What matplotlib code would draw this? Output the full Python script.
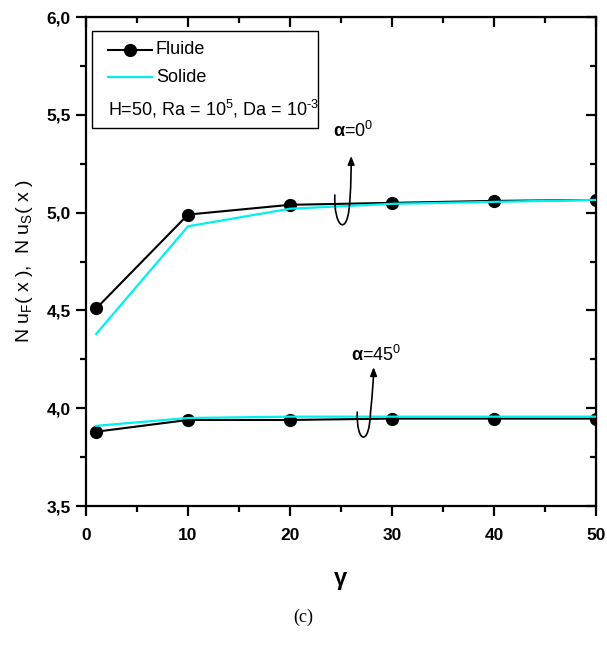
import matplotlib
matplotlib.use("Agg")
from matplotlib import pyplot as plt
from matplotlib.path import Path
from matplotlib.patches import FancyArrowPatch, Rectangle
from matplotlib.lines import Line2D

# gamma values
gamma = [1, 10, 20, 30, 40, 50]

# alpha = 0 deg
fluide_a0 = [4.51, 4.99, 5.04, 5.05, 5.06, 5.065]
solide_a0 = [4.38, 4.93, 5.02, 5.045, 5.055, 5.065]

# alpha = 45 deg
fluide_a45 = [3.88, 3.94, 3.94, 3.947, 3.947, 3.947]
solide_a45 = [3.91, 3.95, 3.957, 3.957, 3.957, 3.957]

xticks = [0, 10, 20, 30, 40, 50]
yticks = [3.5, 4.0, 4.5, 5.0, 5.5, 6.0]

plt.rcParams["font.family"] = ["Liberation Sans Narrow", "DejaVu Sans Condensed",
                               "Liberation Sans", "DejaVu Sans"]
plt.rcParams["mathtext.fontset"] = "custom"
plt.rcParams["mathtext.rm"] = "Liberation Sans"
plt.rcParams["mathtext.it"] = "Liberation Sans:italic"
plt.rcParams["mathtext.bf"] = "Liberation Sans:bold"

fig = plt.figure(figsize=(6.07, 6.48), dpi=100)
ax = fig.add_axes([0.1417, 0.2191, 0.840, 0.7546])

blk = "black"
cy = "#00f0f0"

ax.plot(gamma, fluide_a0, color=blk, lw=1.5, marker="o", ms=8.5, zorder=3)
ax.plot(gamma, fluide_a45, color=blk, lw=1.5, marker="o", ms=8.5, zorder=3)
ax.plot(gamma, solide_a0, color=cy, lw=1.6, zorder=4)
ax.plot(gamma, solide_a45, color=cy, lw=1.6, zorder=4)

ax.set_xlim(0, 50)
ax.set_ylim(3.5, 6.0)
ax.set_xticks(xticks)
ax.set_xticks([5, 15, 25, 35, 45], minor=True)
ax.set_yticks(yticks)
ax.set_yticks([3.75, 4.25, 4.75, 5.25, 5.75], minor=True)
ax.set_yticklabels([f"{v:.1f}".replace(".", ",") for v in yticks])
ax.set_xticklabels([str(v) for v in xticks])

for lab in ax.get_xticklabels() + ax.get_yticklabels():
    lab.set_fontweight("bold")
    lab.set_fontsize(12.5)

for s in ax.spines.values():
    s.set_linewidth(1.6)
ax.tick_params(which="major", direction="out", length=7, width=1.6, pad=4)
ax.tick_params(axis="x", which="major", pad=9)
ax.tick_params(which="minor", direction="out", length=4, width=1.6)

# mirrored inward ticks on top/right
top = ax.secondary_xaxis("top")
top.set_xticks(xticks)
top.set_xticks([5, 15, 25, 35, 45], minor=True)
top.set_xticklabels([])
top.tick_params(which="major", direction="in", length=7, width=1.6)
top.tick_params(which="minor", direction="in", length=4, width=1.6)
right = ax.secondary_yaxis("right")
right.set_yticks(yticks)
right.set_yticks([3.75, 4.25, 4.75, 5.25, 5.75], minor=True)
right.set_yticklabels([])
right.tick_params(which="major", direction="in", length=7, width=1.6)
right.tick_params(which="minor", direction="in", length=4, width=1.6)

ax.set_xlabel(r"$\mathbf{\gamma}$", fontsize=17, labelpad=19)
ax.set_ylabel(r"N u$_{\mathrm{F}}$( x ),  N u$_{\mathrm{S}}$( x )", fontsize=14, labelpad=8)

fig.text(0.499, 0.047, "(c)", fontsize=13, family=["Liberation Serif", "DejaVu Serif"],
         ha="center", va="center")

# legend box
ax.add_patch(Rectangle((0.012, 0.773), 0.443, 0.198, transform=ax.transAxes,
                       fill=False, lw=1.0, ec="black", zorder=5))
ax.add_line(Line2D([0.043, 0.129], [0.933, 0.933], transform=ax.transAxes,
                   color=blk, lw=1.5, zorder=6))
ax.plot([0.086], [0.933], "o", color=blk, ms=8.5, transform=ax.transAxes, zorder=6)
ax.add_line(Line2D([0.043, 0.129], [0.877, 0.877], transform=ax.transAxes,
                   color=cy, lw=1.6, zorder=6))
ax.text(0.137, 0.933, "Fluide", transform=ax.transAxes, fontsize=13, va="center")
ax.text(0.137, 0.877, "Solide", transform=ax.transAxes, fontsize=13, va="center")
ax.text(0.043, 0.812, r"H=50, Ra = 10$^5$, Da = 10$^{\text{-}3}$", transform=ax.transAxes,
        fontsize=13, va="center")

# annotations
ax.text(24.2, 5.42, r"$\mathbf{\alpha}$=0$^0$", fontsize=13, va="center")
ax.text(26.0, 4.27, r"$\mathbf{\alpha}$=45$^0$", fontsize=13, va="center")


def loop_arrow(pts):
    codes = [Path.MOVETO, Path.CURVE4, Path.CURVE4, Path.CURVE4,
             Path.CURVE4, Path.CURVE4, Path.CURVE4]
    p = FancyArrowPatch(path=Path(pts, codes), arrowstyle="-|>,head_length=5,head_width=2",
                        color="black", lw=1.2, zorder=6)
    ax.add_patch(p)


loop_arrow([(24.4, 5.09), (24.3, 4.93), (25.5, 4.88), (25.8, 5.02),
            (26.0, 5.12), (26.0, 5.22), (26.0, 5.29)])
loop_arrow([(26.6, 3.98), (26.5, 3.82), (27.8, 3.80), (27.9, 3.98),
            (28.1, 4.08), (28.2, 4.15), (28.2, 4.21)])

fig.savefig("out.png", dpi=100)
